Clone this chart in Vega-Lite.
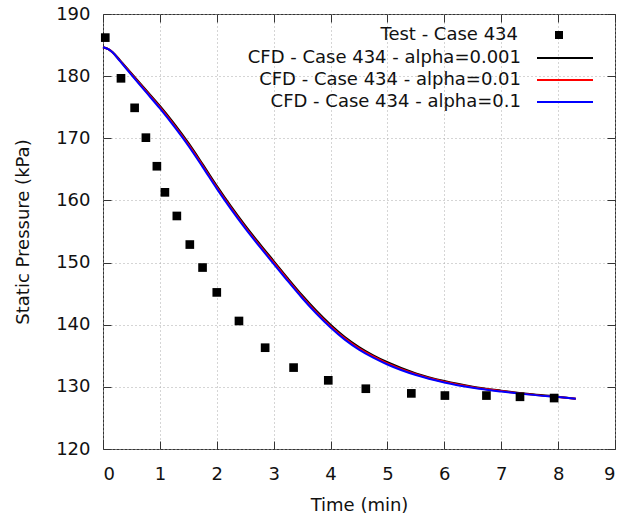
{
  "$schema": "https://vega.github.io/schema/vega-lite/v6.json",
  "width": 512,
  "height": 435,
  "autosize": {"type": "none"},
  "padding": {"left": 103, "top": 14, "right": 8, "bottom": 68},
  "background": "white",
  "config": {
    "font": "DejaVu Sans",
    "view": {"stroke": "#333", "strokeWidth": 1},
    "axis": {
      "domain": false,
      "tickColor": "#333",
      "tickSize": -8,
      "labelFont": "DejaVu Sans",
      "labelFontSize": 18,
      "labelColor": "#111",
      "titleFont": "DejaVu Sans",
      "titleFontSize": 18,
      "titleFontWeight": "normal",
      "titleColor": "#111",
      "gridColor": "#aaa",
      "gridDash": [1, 3],
      "gridWidth": 1
    },
    "legend": {"padding": 0}
  },
  "datasets": {
    "cfd": [
      {"series": "CFD - Case 434 - alpha=0.001", "t": 0, "p": 184.65},
      {"series": "CFD - Case 434 - alpha=0.001", "t": 0.1, "p": 184.32},
      {"series": "CFD - Case 434 - alpha=0.001", "t": 0.17, "p": 183.85},
      {"series": "CFD - Case 434 - alpha=0.001", "t": 0.3, "p": 182.54},
      {"series": "CFD - Case 434 - alpha=0.001", "t": 0.5, "p": 180.43},
      {"series": "CFD - Case 434 - alpha=0.001", "t": 0.75, "p": 177.82},
      {"series": "CFD - Case 434 - alpha=0.001", "t": 1.0, "p": 175.2},
      {"series": "CFD - Case 434 - alpha=0.001", "t": 1.25, "p": 172.35},
      {"series": "CFD - Case 434 - alpha=0.001", "t": 1.5, "p": 169.25},
      {"series": "CFD - Case 434 - alpha=0.001", "t": 1.75, "p": 165.85},
      {"series": "CFD - Case 434 - alpha=0.001", "t": 2.0, "p": 162.35},
      {"series": "CFD - Case 434 - alpha=0.001", "t": 2.25, "p": 159.05},
      {"series": "CFD - Case 434 - alpha=0.001", "t": 2.5, "p": 155.95},
      {"series": "CFD - Case 434 - alpha=0.001", "t": 2.75, "p": 153.05},
      {"series": "CFD - Case 434 - alpha=0.001", "t": 3.0, "p": 150.25},
      {"series": "CFD - Case 434 - alpha=0.001", "t": 3.25, "p": 147.45},
      {"series": "CFD - Case 434 - alpha=0.001", "t": 3.5, "p": 144.75},
      {"series": "CFD - Case 434 - alpha=0.001", "t": 3.75, "p": 142.25},
      {"series": "CFD - Case 434 - alpha=0.001", "t": 4.0, "p": 140.0},
      {"series": "CFD - Case 434 - alpha=0.001", "t": 4.25, "p": 138.03},
      {"series": "CFD - Case 434 - alpha=0.001", "t": 4.5, "p": 136.41},
      {"series": "CFD - Case 434 - alpha=0.001", "t": 4.75, "p": 135.08},
      {"series": "CFD - Case 434 - alpha=0.001", "t": 5.0, "p": 133.96},
      {"series": "CFD - Case 434 - alpha=0.001", "t": 5.5, "p": 132.17},
      {"series": "CFD - Case 434 - alpha=0.001", "t": 6.0, "p": 130.93},
      {"series": "CFD - Case 434 - alpha=0.001", "t": 6.5, "p": 130.03},
      {"series": "CFD - Case 434 - alpha=0.001", "t": 7.0, "p": 129.39},
      {"series": "CFD - Case 434 - alpha=0.001", "t": 7.5, "p": 128.84},
      {"series": "CFD - Case 434 - alpha=0.001", "t": 8.0, "p": 128.4},
      {"series": "CFD - Case 434 - alpha=0.001", "t": 8.31, "p": 128.1},
      {"series": "CFD - Case 434 - alpha=0.01", "t": 0, "p": 184.65},
      {"series": "CFD - Case 434 - alpha=0.01", "t": 0.1, "p": 184.31},
      {"series": "CFD - Case 434 - alpha=0.01", "t": 0.17, "p": 183.82},
      {"series": "CFD - Case 434 - alpha=0.01", "t": 0.3, "p": 182.47},
      {"series": "CFD - Case 434 - alpha=0.01", "t": 0.5, "p": 180.31},
      {"series": "CFD - Case 434 - alpha=0.01", "t": 0.75, "p": 177.65},
      {"series": "CFD - Case 434 - alpha=0.01", "t": 1.0, "p": 175.0},
      {"series": "CFD - Case 434 - alpha=0.01", "t": 1.25, "p": 172.12},
      {"series": "CFD - Case 434 - alpha=0.01", "t": 1.5, "p": 169.02},
      {"series": "CFD - Case 434 - alpha=0.01", "t": 1.75, "p": 165.62},
      {"series": "CFD - Case 434 - alpha=0.01", "t": 2.0, "p": 162.12},
      {"series": "CFD - Case 434 - alpha=0.01", "t": 2.25, "p": 158.82},
      {"series": "CFD - Case 434 - alpha=0.01", "t": 2.5, "p": 155.72},
      {"series": "CFD - Case 434 - alpha=0.01", "t": 2.75, "p": 152.82},
      {"series": "CFD - Case 434 - alpha=0.01", "t": 3.0, "p": 150.02},
      {"series": "CFD - Case 434 - alpha=0.01", "t": 3.25, "p": 147.22},
      {"series": "CFD - Case 434 - alpha=0.01", "t": 3.5, "p": 144.52},
      {"series": "CFD - Case 434 - alpha=0.01", "t": 3.75, "p": 142.02},
      {"series": "CFD - Case 434 - alpha=0.01", "t": 4.0, "p": 139.77},
      {"series": "CFD - Case 434 - alpha=0.01", "t": 4.25, "p": 137.81},
      {"series": "CFD - Case 434 - alpha=0.01", "t": 4.5, "p": 136.2},
      {"series": "CFD - Case 434 - alpha=0.01", "t": 4.75, "p": 134.89},
      {"series": "CFD - Case 434 - alpha=0.01", "t": 5.0, "p": 133.78},
      {"series": "CFD - Case 434 - alpha=0.01", "t": 5.5, "p": 132.03},
      {"series": "CFD - Case 434 - alpha=0.01", "t": 6.0, "p": 130.81},
      {"series": "CFD - Case 434 - alpha=0.01", "t": 6.5, "p": 129.94},
      {"series": "CFD - Case 434 - alpha=0.01", "t": 7.0, "p": 129.32},
      {"series": "CFD - Case 434 - alpha=0.01", "t": 7.5, "p": 128.79},
      {"series": "CFD - Case 434 - alpha=0.01", "t": 8.0, "p": 128.37},
      {"series": "CFD - Case 434 - alpha=0.01", "t": 8.31, "p": 128.1},
      {"series": "CFD - Case 434 - alpha=0.1", "t": 0, "p": 184.65},
      {"series": "CFD - Case 434 - alpha=0.1", "t": 0.1, "p": 184.3},
      {"series": "CFD - Case 434 - alpha=0.1", "t": 0.17, "p": 183.8},
      {"series": "CFD - Case 434 - alpha=0.1", "t": 0.3, "p": 182.4},
      {"series": "CFD - Case 434 - alpha=0.1", "t": 0.5, "p": 180.2},
      {"series": "CFD - Case 434 - alpha=0.1", "t": 0.75, "p": 177.5},
      {"series": "CFD - Case 434 - alpha=0.1", "t": 1.0, "p": 174.8},
      {"series": "CFD - Case 434 - alpha=0.1", "t": 1.25, "p": 171.9},
      {"series": "CFD - Case 434 - alpha=0.1", "t": 1.5, "p": 168.8},
      {"series": "CFD - Case 434 - alpha=0.1", "t": 1.75, "p": 165.4},
      {"series": "CFD - Case 434 - alpha=0.1", "t": 2.0, "p": 161.9},
      {"series": "CFD - Case 434 - alpha=0.1", "t": 2.25, "p": 158.6},
      {"series": "CFD - Case 434 - alpha=0.1", "t": 2.5, "p": 155.5},
      {"series": "CFD - Case 434 - alpha=0.1", "t": 2.75, "p": 152.6},
      {"series": "CFD - Case 434 - alpha=0.1", "t": 3.0, "p": 149.8},
      {"series": "CFD - Case 434 - alpha=0.1", "t": 3.25, "p": 147.0},
      {"series": "CFD - Case 434 - alpha=0.1", "t": 3.5, "p": 144.3},
      {"series": "CFD - Case 434 - alpha=0.1", "t": 3.75, "p": 141.8},
      {"series": "CFD - Case 434 - alpha=0.1", "t": 4.0, "p": 139.55},
      {"series": "CFD - Case 434 - alpha=0.1", "t": 4.25, "p": 137.6},
      {"series": "CFD - Case 434 - alpha=0.1", "t": 4.5, "p": 136.0},
      {"series": "CFD - Case 434 - alpha=0.1", "t": 4.75, "p": 134.7},
      {"series": "CFD - Case 434 - alpha=0.1", "t": 5.0, "p": 133.6},
      {"series": "CFD - Case 434 - alpha=0.1", "t": 5.5, "p": 131.9},
      {"series": "CFD - Case 434 - alpha=0.1", "t": 6.0, "p": 130.7},
      {"series": "CFD - Case 434 - alpha=0.1", "t": 6.5, "p": 129.85},
      {"series": "CFD - Case 434 - alpha=0.1", "t": 7.0, "p": 129.25},
      {"series": "CFD - Case 434 - alpha=0.1", "t": 7.5, "p": 128.75},
      {"series": "CFD - Case 434 - alpha=0.1", "t": 8.0, "p": 128.35},
      {"series": "CFD - Case 434 - alpha=0.1", "t": 8.31, "p": 128.1}
    ],
    "test": [
      {"label": "Test - Case 434", "t": 0.04, "p": 186.2},
      {"label": "Test - Case 434", "t": 0.316, "p": 179.65},
      {"label": "Test - Case 434", "t": 0.556, "p": 174.9},
      {"label": "Test - Case 434", "t": 0.754, "p": 170.1},
      {"label": "Test - Case 434", "t": 0.947, "p": 165.5},
      {"label": "Test - Case 434", "t": 1.088, "p": 161.3},
      {"label": "Test - Case 434", "t": 1.298, "p": 157.5},
      {"label": "Test - Case 434", "t": 1.526, "p": 152.9},
      {"label": "Test - Case 434", "t": 1.75, "p": 149.2},
      {"label": "Test - Case 434", "t": 2.0, "p": 145.2},
      {"label": "Test - Case 434", "t": 2.39, "p": 140.6},
      {"label": "Test - Case 434", "t": 2.85, "p": 136.3},
      {"label": "Test - Case 434", "t": 3.35, "p": 133.1},
      {"label": "Test - Case 434", "t": 3.96, "p": 131.05},
      {"label": "Test - Case 434", "t": 4.62, "p": 129.7},
      {"label": "Test - Case 434", "t": 5.42, "p": 128.95},
      {"label": "Test - Case 434", "t": 6.01, "p": 128.6},
      {"label": "Test - Case 434", "t": 6.74, "p": 128.6},
      {"label": "Test - Case 434", "t": 7.33, "p": 128.4},
      {"label": "Test - Case 434", "t": 7.93, "p": 128.2}
    ]
  },
  "resolve": {"axis": {"x": "independent", "y": "independent"}},
  "layer": [
    {
      "data": {"name": "cfd"},
      "mark": {"type": "line", "strokeWidth": 2, "interpolate": "monotone"},
      "encoding": {
        "x": {
          "field": "t", "type": "quantitative",
          "scale": {"domain": [0, 9], "nice": false, "zero": false},
          "axis": {"orient": "bottom", "title": "Time (min)", "values": [0, 1, 2, 3, 4, 5, 6, 7, 8, 9], "labelPadding": 24, "titlePadding": 13, "grid": true}
        },
        "y": {
          "field": "p", "type": "quantitative",
          "scale": {"domain": [120, 190], "nice": false, "zero": false},
          "axis": {"orient": "left", "title": "Static Pressure (kPa)", "values": [120, 130, 140, 150, 160, 170, 180, 190], "labelPadding": 21, "titlePadding": 23, "grid": true}
        },
        "color": {
          "field": "series", "type": "nominal",
          "scale": {
            "domain": ["CFD - Case 434 - alpha=0.001", "CFD - Case 434 - alpha=0.01", "CFD - Case 434 - alpha=0.1"],
            "range": ["#000000", "#ff0000", "#0000ff"]
          },
          "legend": {
            "orient": "none", "legendX": 451, "legendY": 33, "title": null,
            "symbolType": "M-2.8,0H2.8", "symbolSize": 400, "symbolStrokeWidth": 2,
            "labelAlign": "right", "labelOffset": -55, "labelFontSize": 18,
            "labelFont": "DejaVu Sans", "labelColor": "#111", "labelLimit": 400,
            "rowPadding": 2
          }
        }
      }
    },
    {
      "data": {"name": "test"},
      "mark": {"type": "point", "filled": true, "size": 75, "color": "#000000", "opacity": 1},
      "encoding": {
        "x": {
          "field": "t", "type": "quantitative",
          "axis": {"orient": "top", "title": null, "labels": false, "grid": false, "values": [0, 1, 2, 3, 4, 5, 6, 7, 8, 9]}
        },
        "y": {
          "field": "p", "type": "quantitative",
          "axis": {"orient": "right", "title": null, "labels": false, "grid": false, "values": [120, 130, 140, 150, 160, 170, 180, 190]}
        },
        "shape": {
          "field": "label", "type": "nominal",
          "scale": {"range": ["square"]},
          "legend": {
            "orient": "none", "legendX": 447, "legendY": 12, "title": null,
            "symbolFillColor": "#000000", "symbolStrokeColor": "#000000", "symbolSize": 64,
            "labelAlign": "right", "labelOffset": -50, "labelFontSize": 18,
            "labelFont": "DejaVu Sans", "labelColor": "#111", "labelLimit": 400
          }
        }
      }
    }
  ]
}
